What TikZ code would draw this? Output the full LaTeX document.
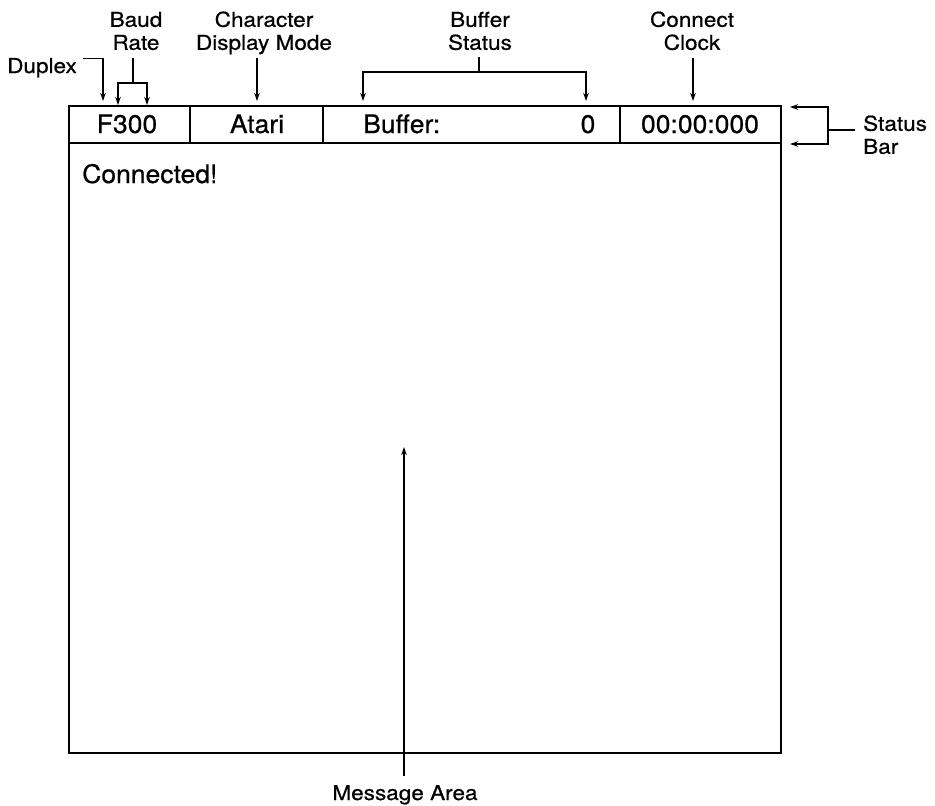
\documentclass[tikz,border=0pt]{standalone}
\usepackage{fontspec}
\setmainfont{TeX Gyre Heros}
\newfontfamily\labelfont[FakeStretch=1.1,FakeBold=0.6]{TeX Gyre Heros}
\newfontfamily\barfont[FakeStretch=1.04,FakeBold=0.6]{TeX Gyre Heros}
\usetikzlibrary{arrows.meta}
\usetikzlibrary{calc}

\begin{document}
\begin{tikzpicture}[x=1pt,y=-1pt,
		lbl/.style={font=\labelfont\fontsize{20.5}{23}\selectfont,align=center,inner sep=0pt,text depth=0pt},
		bartxt/.style={font=\barfont\fontsize{25.5}{28}\selectfont,inner sep=0pt,anchor=base},
		frame/.style={line width=2pt},
		leader/.style={line width=1.3pt},
		pointer/.style={leader,-{Stealth[length=8pt,width=5.5pt]}}]
		\useasboundingbox (0,0) rectangle (935,806);
		
		% Screen outline and status bar
		\coordinate (tl) at (69,106);
		\coordinate (br) at (781,753);
		\draw[frame] (tl) rectangle (br);
		\draw[frame] (69,143) -- (781,143);
		\foreach \x in {190,323,620}
			\draw[frame] (\x,106) -- (\x,143);
		
		% Status bar fields
		\node[bartxt] (rate) at (127,133) {F300};
		\node[bartxt] (mode) at (257,133) {Atari};
		\node[bartxt,anchor=base west] (buf) at (363,133) {Buffer:};
		\node[bartxt] (bufn) at (588,133) {0};
		\node[bartxt] (clock) at (700,133) {00:00:000};
		\node[bartxt,anchor=base west] (conn) at (82,183) {Connected!};
		
		% Labels
		\node[lbl,anchor=base west] (duplex) at (7,73) {Duplex};
		\node[lbl,anchor=south] (baud) at (136,50) {Baud\\Rate};
		\node[lbl,anchor=south] (charmode) at (264,50) {Character\\Display Mode};
		\node[lbl,anchor=south] (bufstat) at (480,50) {Buffer\\Status};
		\node[lbl,anchor=south] (cclock) at (692,50) {Connect\\Clock};
		\node[lbl,anchor=south west,align=left] (sbar) at (863,154) {Status\\Bar};
		\node[lbl,anchor=base] (msg) at (405,800) {Message Area};
		
		% Tips and joints
		\coordinate (duptip) at (103,101);
		\coordinate (baudjoin) at (133,83);
		\coordinate (baudA) at (118,105);
		\coordinate (baudB) at (147,105);
		\coordinate (bufjoin) at (479,72);
		\coordinate (bufA) at (363,101);
		\coordinate (bufB) at (586,101);
		\coordinate (sbjoin) at (828,130);
		\coordinate (sbA) at (790,107);
		\coordinate (sbB) at (790,144);
		
		% Leaders
		\draw[pointer] ($(duplex.east)+(6,-7)$) -| (duptip);
		\draw[leader] (133,58) -- (baudjoin);
		\draw[pointer] (baudjoin) -| (baudA);
		\draw[pointer] (baudjoin) -| (baudB);
		\draw[pointer] (257,58) -- (257,101);
		\draw[leader] (479,57) -- (bufjoin);
		\draw[pointer] (bufjoin) -| (bufA);
		\draw[pointer] (bufjoin) -| (bufB);
		\draw[pointer] (693,58) -- (693,101);
		\draw[leader] ($(sbar.west |- sbjoin)+(-8,0)$) -- (sbjoin);
		\draw[pointer] (sbjoin) |- (sbA);
		\draw[pointer] (sbjoin) |- (sbB);
		\draw[pointer] (404,776) -- (404,447);
	\end{tikzpicture}
\end{document}
